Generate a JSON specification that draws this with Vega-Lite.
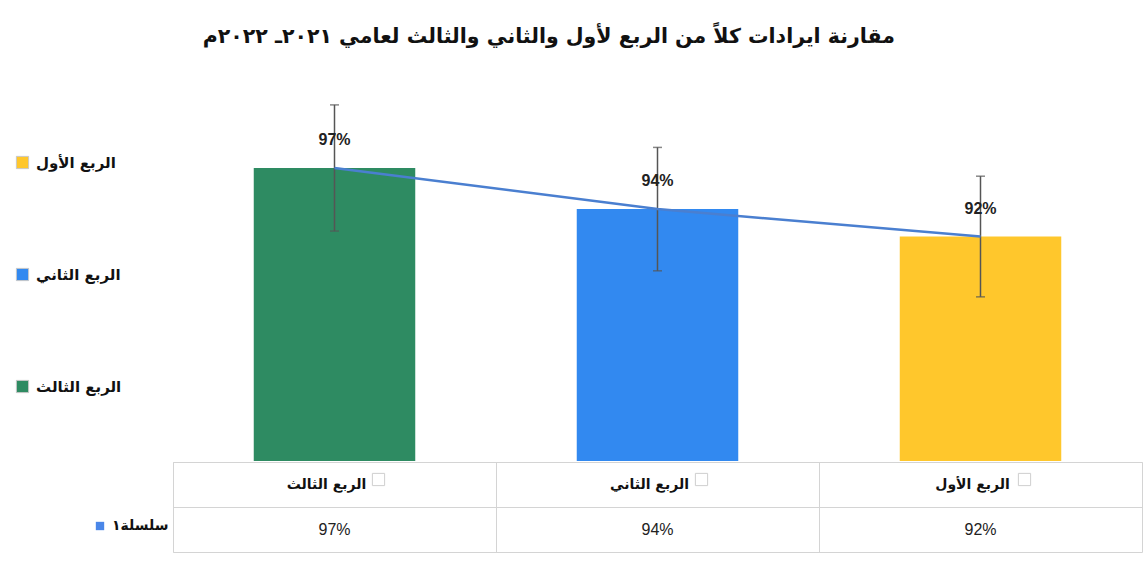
{
  "$schema": "https://vega.github.io/schema/vega-lite/v6.json",
  "background": "white",
  "padding": {"left": 15, "top": 26, "right": 0, "bottom": 5},
  "title": {
    "text": "مقارنة ايرادات كلاً من الربع لأول والثاني والثالث لعامي ٢٠٢١ـ ٢٠٢٢م",
    "font": "DejaVu Sans",
    "fontSize": 20.5,
    "fontWeight": "bold",
    "color": "#111111",
    "anchor": "middle",
    "dx": -30,
    "offset": 28
  },
  "config": {"font": "DejaVu Sans"},
  "datasets": {
    "q": [
      {"quarter": "الربع الثالث", "value": 0.97, "lo": 0.924, "hi": 1.016},
      {"quarter": "الربع الثاني", "value": 0.94, "lo": 0.895, "hi": 0.985},
      {"quarter": "الربع الأول", "value": 0.92, "lo": 0.876, "hi": 0.964}
    ]
  },
  "spacing": 0,
  "resolve": {"scale": {"x": "independent", "y": "independent"}},
  "vconcat": [
    {
      "width": 969,
      "height": 386,
      "view": {"stroke": null},
      "data": {"name": "q"},
      "encoding": {
        "x": {
          "field": "quarter",
          "type": "nominal",
          "sort": ["الربع الثالث", "الربع الثاني", "الربع الأول"],
          "scale": {"type": "band", "paddingInner": 0.5, "paddingOuter": 0.25},
          "axis": null
        }
      },
      "layer": [
        {
          "mark": {"type": "bar", "clip": true},
          "encoding": {
            "y": {"field": "value", "type": "quantitative", "scale": {"domain": [0.7563, 1.0378], "zero": false, "nice": false}, "axis": null},
            "fill": {
              "field": "quarter",
              "type": "nominal",
              "scale": {"domain": ["الربع الأول", "الربع الثاني", "الربع الثالث"], "range": ["#FFC72C", "#3289F0", "#2E8B62"]},
              "legend": {
                "orient": "none",
                "legendX": -158,
                "legendY": 80,
                "title": null,
                "symbolType": "square",
                "symbolSize": 150,
                "labelFont": "DejaVu Sans",
                "labelFontSize": 15,
                "labelFontWeight": "bold",
                "labelColor": "#111111",
                "labelOffset": 6,
                "rowPadding": 95,
                "encode": {"symbols": {"update": {"stroke": {"value": "#c8c8c8"}, "strokeWidth": {"value": 1}}}}
              }
            }
          }
        },
        {
          "mark": {"type": "errorbar", "ticks": true, "size": 9, "thickness": 1.5, "color": "#555555"},
          "encoding": {
            "y": {"field": "lo", "type": "quantitative", "axis": null},
            "y2": {"field": "hi"}
          }
        },
        {
          "mark": {"type": "line", "strokeWidth": 2.5},
          "encoding": {
            "y": {"field": "value", "type": "quantitative", "axis": null},
            "stroke": {
              "datum": "سلسلة١",
              "scale": {"range": ["#4A7FD0"]},
              "legend": {
                "orient": "none",
                "legendX": -80,
                "legendY": 444,
                "title": null,
                "symbolType": "square",
                "symbolSize": 70,
                "labelFont": "DejaVu Sans",
                "labelFontSize": 14,
                "labelFontWeight": "bold",
                "labelColor": "#111111",
                "labelOffset": 5,
                "encode": {"symbols": {"update": {"fill": {"value": "#4A86E8"}, "stroke": {"value": "#4A86E8"}, "strokeWidth": {"value": 0}}}}
              }
            }
          }
        },
        {
          "mark": {"type": "text", "dy": -28, "font": "Liberation Sans", "fontSize": 16, "fontWeight": "bold", "color": "#222222"},
          "encoding": {
            "y": {"field": "value", "type": "quantitative", "axis": null},
            "text": {"field": "value", "type": "quantitative", "format": ".0%"}
          }
        }
      ]
    },
    {
      "width": 969,
      "height": 90,
      "view": {"stroke": "#d4d4d4"},
      "data": {"name": "q"},
      "encoding": {
        "x": {
          "field": "quarter",
          "type": "nominal",
          "sort": ["الربع الثالث", "الربع الثاني", "الربع الأول"],
          "scale": {"type": "band", "paddingInner": 0, "paddingOuter": 0},
          "axis": {"grid": true, "gridColor": "#d4d4d4", "labels": false, "ticks": false, "domain": false, "title": null, "bandPosition": 0}
        }
      },
      "layer": [
        {
          "mark": {"type": "text", "font": "DejaVu Sans", "fontSize": 14, "fontWeight": "bold", "color": "#111111", "dx": -8},
          "encoding": {
            "y": {
              "datum": "h",
              "type": "nominal",
              "scale": {"type": "band", "domain": ["h", "v"], "paddingInner": 0, "paddingOuter": 0},
              "axis": {"grid": true, "gridColor": "#d4d4d4", "labels": false, "ticks": false, "domain": false, "title": null, "bandPosition": 0}
            },
            "text": {"field": "quarter", "type": "nominal"}
          }
        },
        {
          "mark": {"type": "point", "shape": "square", "size": 150, "filled": false, "stroke": "#bbbbbb", "strokeWidth": 1, "xOffset": 44, "yOffset": -5},
          "encoding": {
            "y": {"datum": "h", "type": "nominal"}
          }
        },
        {
          "mark": {"type": "text", "font": "Liberation Sans", "fontSize": 16, "color": "#222222"},
          "encoding": {
            "y": {"datum": "v", "type": "nominal"},
            "text": {"field": "value", "type": "quantitative", "format": ".0%"}
          }
        }
      ]
    }
  ]
}
